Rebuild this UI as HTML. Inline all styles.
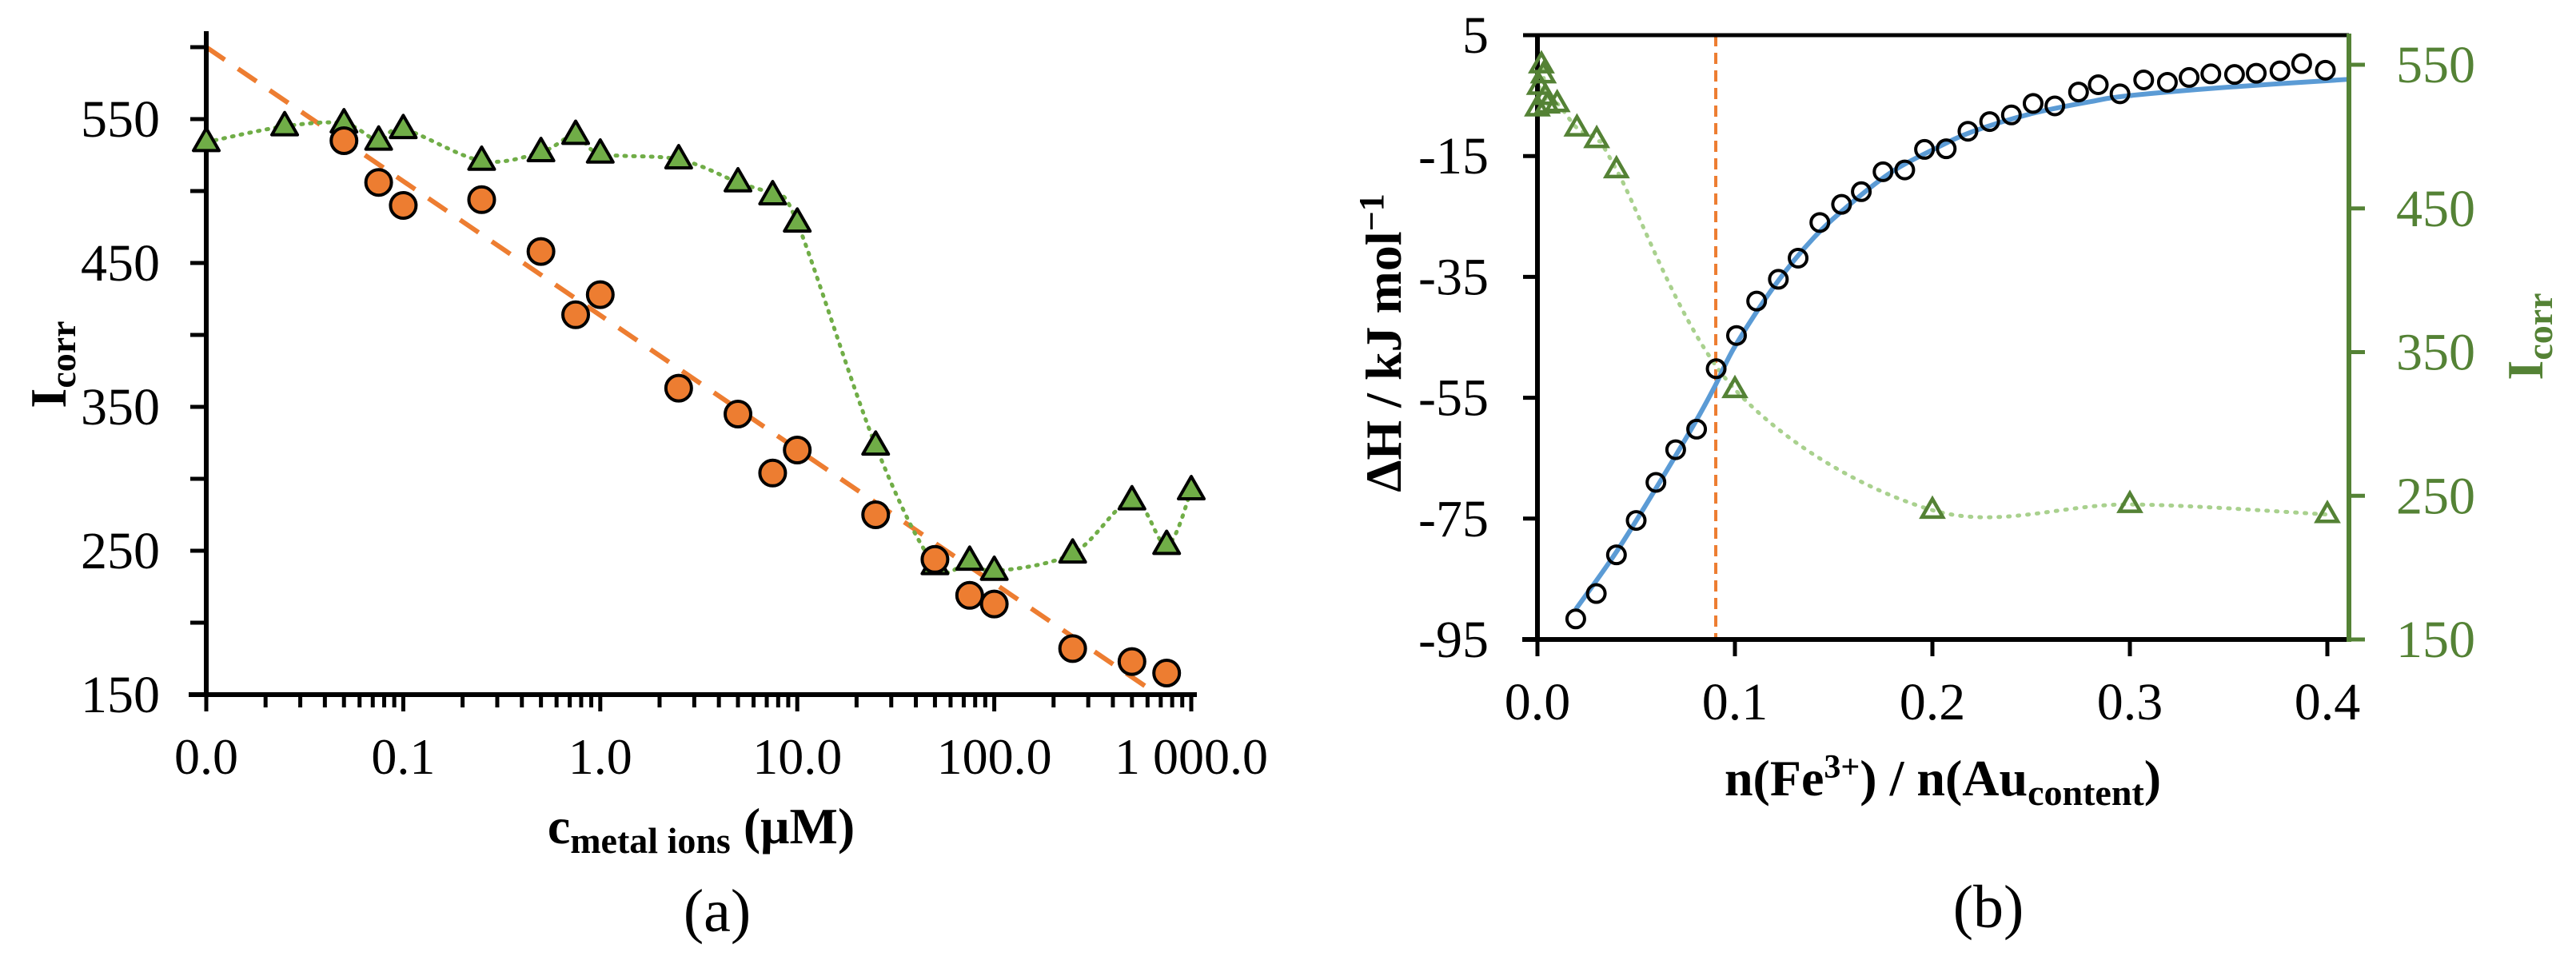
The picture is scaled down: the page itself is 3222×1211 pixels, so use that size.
<!DOCTYPE html>
<html><head><meta charset="utf-8"><style>
html,body{margin:0;padding:0;background:#fff;}
svg, svg text, svg tspan{font-family:"Liberation Serif","Times New Roman","DejaVu Serif",serif;}
</style></head><body>
<svg id="svg" width="3222" height="1206" viewBox="0 0 3222 1206" xmlns="http://www.w3.org/2000/svg" font-family="Liberation Serif, DejaVu Serif, serif">
<g id="ga"></g>
<g id="gb"></g>
</svg>
<script>
// ---- Chart (a) data ----
const aTriX = [0.01,0.025,0.05,0.075,0.1,0.25,0.5,0.75,1,2.5,5,7.5,10,25,50,75,100,250,500,750,1000];
const aTriY = [534,545,547,535,543,521,527,539,526,522,506,497,478,323,240,243,236,248,285,254,292];
const aCircX = [0.05,0.075,0.1,0.25,0.5,0.75,1,2.5,5,7.5,10,25,50,75,100,250,500,750];
const aCircY = [535,506,490,494,458,414,428,363,345,304,320,275,244,219,213,182,173,165];
const aFitX = [0.01,676];
const aFitY = [600,150];
const aYTicks = [150,250,350,450,550];
const aXTicks = [0.01,0.1,1,10,100,1000];
const aXLabels = ["0.0","0.1","1.0","10.0","100.0","1 000.0"];
// ---- Chart (b) data ----
const bCircX = [0.0194,0.0298,0.040,0.050,0.060,0.070,0.0806,0.0905,0.1008,0.111,0.122,0.132,0.143,0.154,0.164,0.175,0.186,0.196,0.207,0.218,0.229,0.240,0.251,0.262,0.274,0.284,0.295,0.307,0.319,0.330,0.341,0.353,0.364,0.376,0.387,0.399];
const bCircY = [-91.6,-87.4,-81,-75.3,-69,-63.6,-60.2,-50.2,-44.7,-39,-35.4,-31.9,-26,-23,-20.9,-17.6,-17.3,-13.9,-13.8,-10.9,-9.3,-8.2,-6.3,-6.7,-4.4,-3.2,-4.7,-2.4,-2.8,-2,-1.4,-1.5,-1.3,-0.9,0.3,-0.8];
const bFitX = [0.0194,0.04,0.06,0.08,0.09,0.1,0.12,0.14,0.16,0.18,0.2,0.22,0.25,0.28,0.3,0.35,0.411];
const bFitY = [-90,-80.5,-70,-59,-53,-46.5,-36.5,-28.5,-22.5,-17.5,-14,-11,-8,-6,-5,-3.6,-2.3];
const bTriX = [0,0.001,0.002,0.003,0.004,0.005,0.01,0.02,0.03,0.04,0.1,0.2,0.3,0.4];
const bTriY = [520,535,550,543,528,522,523,506,498,477,324,240,244,237];
const bYTicks = [5,-15,-35,-55,-75,-95];
const bY2Ticks = [150,250,350,450,550];
const bXTicks = [0,0.1,0.2,0.3,0.4];
const bVLine = 0.0903;

const NS="http://www.w3.org/2000/svg";
const FF="Liberation Serif, DejaVu Serif, serif";
function mk(parent,tag,attrs,text){const e=document.createElementNS(NS,tag);for(const k in attrs)e.setAttribute(k,attrs[k]);if(tag==='text')e.setAttribute('font-family',FF);if(text!==undefined)e.textContent=text;parent.appendChild(e);return e;}
function smooth(pts){let d="M"+pts[0][0]+","+pts[0][1];for(let i=0;i<pts.length-1;i++){const p0=pts[Math.max(0,i-1)],p1=pts[i],p2=pts[i+1],p3=pts[Math.min(pts.length-1,i+2)];const t=0.5/3;const c1=[p1[0]+(p2[0]-p0[0])*t,p1[1]+(p2[1]-p0[1])*t];const c2=[p2[0]-(p3[0]-p1[0])*t,p2[1]-(p3[1]-p1[1])*t];d+=" C"+c1[0]+","+c1[1]+" "+c2[0]+","+c2[1]+" "+p2[0]+","+p2[1];}return d;}
function tri(cx,cy,s){const h=s*0.87;return (cx)+","+(cy-h*0.62)+" "+(cx-s/2)+","+(cy+h*0.38)+" "+(cx+s/2)+","+(cy+h*0.38);}

// ===== Chart A =====
const ga=document.getElementById('ga');
const ax=v=>258+(Math.log10(v)+2)*246.4;
const ay=v=>869-(v-150)*1.8;
let el;
el=mk(ga,'line',{x1:ax(aFitX[0]),y1:ay(aFitY[0]),x2:ax(aFitX[1]),y2:ay(aFitY[1]),stroke:'#ed7d31','stroke-width':6,'stroke-dasharray':'28,20'});


el=mk(ga,'path',{d:smooth(aTriX.map((x,i)=>[ax(x),ay(aTriY[i])])),fill:'none',stroke:'#70ad47','stroke-width':5,'stroke-dasharray':'2,9','stroke-linecap':'round'});


el=mk(ga,'line',{x1:258,y1:39,x2:258,y2:872,stroke:'#000','stroke-width':6});


el=mk(ga,'line',{x1:236,y1:869,x2:1497,y2:869,stroke:'#000','stroke-width':6});


for(let v=150;v<=600;v+=50){el=mk(ga,'line',{x1:238,y1:ay(v),x2:258,y2:ay(v),stroke:'#000','stroke-width':5});

}
aYTicks.forEach(v=>{el=mk(ga,'text',{x:200,y:ay(v)+22,'text-anchor':'end','font-size':66},String(v));

});
for(let d=-2;d<3;d++){for(let m=2;m<=9;m++){const x=ax(m*Math.pow(10,d));el=mk(ga,'line',{x1:x,y1:869,x2:x,y2:885,stroke:'#000','stroke-width':5});

}}
aXTicks.forEach((v,i)=>{el=mk(ga,'line',{x1:ax(v),y1:869,x2:ax(v),y2:890,stroke:'#000','stroke-width':5});


el=mk(ga,'text',{x:ax(v),y:968,'text-anchor':'middle','font-size':64},aXLabels[i]);

});
aTriX.forEach((x,i)=>{el=mk(ga,'polygon',{points:tri(ax(x),ay(aTriY[i]),32),fill:'#70ad47',stroke:'#000','stroke-width':4,'stroke-linejoin':'round'});

});
aCircX.forEach((x,i)=>{el=mk(ga,'circle',{cx:ax(x),cy:ay(aCircY[i]),r:16,fill:'#ed7d31',stroke:'#000','stroke-width':4});

});
el=mk(ga,'text',{transform:'translate(82,456) rotate(-90)','text-anchor':'middle','font-size':64,'font-weight':'bold'});


el.innerHTML='I<tspan font-size="46" dy="12">corr</tspan>';
el=mk(ga,'text',{x:877,y:1055,'text-anchor':'middle','font-size':64,'font-weight':'bold'});


el.innerHTML='c<tspan font-size="46" dy="12">metal ions</tspan><tspan dy="-12">  (μM)</tspan>';
el=mk(ga,'text',{x:897,y:1165,'text-anchor':'middle','font-size':76},'(a)');



// ===== Chart B =====
const gb=document.getElementById('gb');
const bx=v=>1923+v*2470;
const by=v=>800-(v+95)*7.56;
const by2=v=>800-(v-150)*1.7975;
el=mk(gb,'line',{x1:bx(bVLine),y1:44,x2:bx(bVLine),y2:800,stroke:'#ed7d31','stroke-width':4,'stroke-dasharray':'14,8'});


el=mk(gb,'path',{d:smooth(bTriX.map((x,i)=>[bx(x),by2(bTriY[i])])),fill:'none',stroke:'#a9d18e','stroke-width':5,'stroke-dasharray':'2,10','stroke-linecap':'round'});


el=mk(gb,'path',{d:smooth(bFitX.map((x,i)=>[bx(x),by(bFitY[i])])),fill:'none',stroke:'#5b9bd5','stroke-width':6});


el=mk(gb,'line',{x1:1923,y1:44,x2:2938,y2:44,stroke:'#000','stroke-width':5});


el=mk(gb,'line',{x1:1923,y1:42,x2:1923,y2:803,stroke:'#000','stroke-width':6});


el=mk(gb,'line',{x1:1904,y1:800,x2:2941,y2:800,stroke:'#000','stroke-width':6});


el=mk(gb,'line',{x1:2938,y1:42,x2:2938,y2:803,stroke:'#548235','stroke-width':6});


bYTicks.forEach(v=>{el=mk(gb,'line',{x1:1905,y1:by(v),x2:1923,y2:by(v),stroke:'#000','stroke-width':5});


el=mk(gb,'text',{x:1862,y:by(v)+22,'text-anchor':'end','font-size':66},String(v));

});
bY2Ticks.forEach(v=>{el=mk(gb,'line',{x1:2938,y1:by2(v),x2:2958,y2:by2(v),stroke:'#548235','stroke-width':5});


el=mk(gb,'text',{x:2997,y:by2(v)+22,'text-anchor':'start','font-size':66,fill:'#548235'},String(v));

});
bXTicks.forEach(v=>{el=mk(gb,'line',{x1:bx(v),y1:800,x2:bx(v),y2:821,stroke:'#000','stroke-width':5});


el=mk(gb,'text',{x:bx(v),y:900,'text-anchor':'middle','font-size':66},v.toFixed(1));

});
bTriX.forEach((x,i)=>{el=mk(gb,'polygon',{points:tri(bx(x),by2(bTriY[i]),26),fill:'none',stroke:'#548235','stroke-width':4.5,'stroke-linejoin':'miter'});

});
bCircX.forEach((x,i)=>{el=mk(gb,'circle',{cx:bx(x),cy:by(bCircY[i]),r:11,fill:'none',stroke:'#000','stroke-width':4});

});
el=mk(gb,'text',{transform:'translate(1752,429) rotate(-90)','text-anchor':'middle','font-size':64,'font-weight':'bold'});


el.innerHTML='ΔH / kJ mol<tspan font-size="44" dy="-22">−1</tspan>';
el=mk(gb,'text',{transform:'translate(3180,421) rotate(-90)','text-anchor':'middle','font-size':64,'font-weight':'bold',fill:'#548235'});


el.innerHTML='I<tspan font-size="46" dy="12">corr</tspan>';
el=mk(gb,'text',{x:2430,y:995,'text-anchor':'middle','font-size':64,'font-weight':'bold'});


el.innerHTML='n(Fe<tspan font-size="42" dy="-22">3+</tspan><tspan dy="22">) / n(Au</tspan><tspan font-size="46" dy="12">content</tspan><tspan dy="-12">)</tspan>';
el=mk(gb,'text',{x:2487,y:1160,'text-anchor':'middle','font-size':76},'(b)');


</script>
</body></html>
